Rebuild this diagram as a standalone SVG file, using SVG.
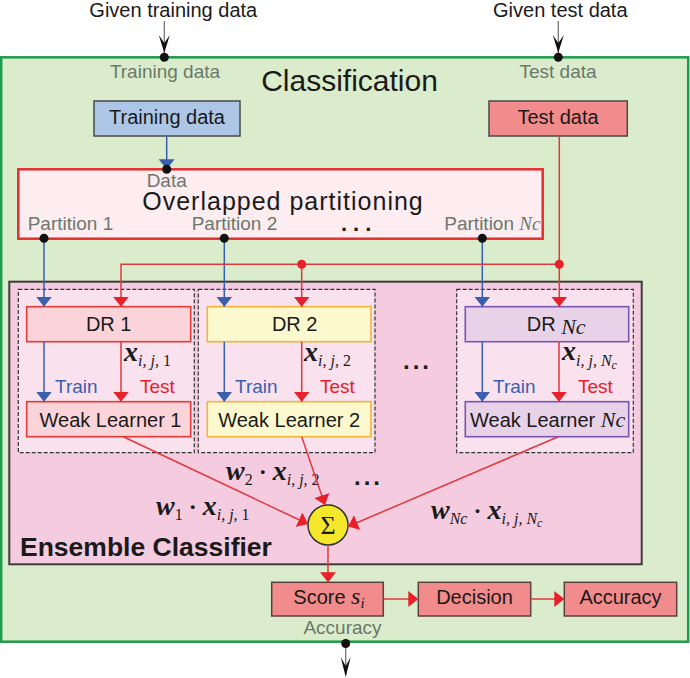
<svg xmlns="http://www.w3.org/2000/svg" width="690" height="678" viewBox="0 0 690 678">
<style>
.sans{font-family:"Liberation Sans",Arial,sans-serif;fill:#1a1a1a}
.gray{font-family:"Liberation Sans",Arial,sans-serif;fill:#6c786c;font-size:19px}
.lbl{font-family:"Liberation Sans",Arial,sans-serif;fill:#1a1a1a;font-size:20px;text-anchor:middle}
.m{font-family:"Liberation Serif","Times New Roman",serif;font-style:italic}
.mb{font-family:"Liberation Serif","Times New Roman",serif;font-style:italic;font-weight:bold;fill:#1a1a1a}
.ms{font-family:"Liberation Serif","Times New Roman",serif;font-style:italic;fill:#1a1a1a}
.blue{stroke:#3a5fae;stroke-width:1.5;fill:none}
.red{stroke:#e0393e;stroke-width:1.5;fill:none}
.dash{fill:#f9e1ed;stroke:#333;stroke-width:1.2;stroke-dasharray:4 2}
.box1{fill:#fbd4d9;stroke:#e53935;stroke-width:1.6}
.box2{fill:#fdf9cf;stroke:#f4b43c;stroke-width:1.6}
.boxN{fill:#e8d2e8;stroke:#7b55b5;stroke-width:1.6}
.sal{fill:#f28b8b;stroke:#5a4040;stroke-width:1.5}
</style>
<defs>
<marker id="ab" viewBox="0 0 10 16" refX="10" refY="8" markerWidth="10" markerHeight="16" markerUnits="userSpaceOnUse" orient="auto"><path d="M0,0 L10,8 L0,16 Z" fill="#3a5fae"/></marker>
<marker id="ar" viewBox="0 0 10 16" refX="10" refY="8" markerWidth="10" markerHeight="16" markerUnits="userSpaceOnUse" orient="auto"><path d="M0,0 L10,8 L0,16 Z" fill="#e8202a"/></marker>
</defs>

<!-- outer -->
<g id="classification">
<rect x="1.2" y="57.3" width="687" height="584.4" fill="#daeccb" stroke="#1e9c4c" stroke-width="2.5"/>
<text class="sans" x="349.5" y="91" font-size="30" text-anchor="middle">Classification</text>
<text class="gray" x="165" y="78" text-anchor="middle">Training data</text>
<text class="gray" x="558" y="78" text-anchor="middle">Test data</text>
<text class="gray" x="342.5" y="634" text-anchor="middle">Accuracy</text>
</g>

<g id="given-training">
<text class="sans" x="173.3" y="17" font-size="20" text-anchor="middle">Given training data</text>
</g>
<g id="given-test">
<text class="sans" x="560.3" y="17" font-size="20" text-anchor="middle">Given test data</text>
</g>

<g id="training-data">
<rect x="94" y="101" width="146" height="35" fill="#aec6e6" stroke="#4a4a4a" stroke-width="1.5"/>
<text class="lbl" x="167" y="124">Training data</text>
</g>
<g id="test-data">
<rect x="489" y="101" width="138.3" height="35" fill="#f28b8b" stroke="#4a4a4a" stroke-width="1.5"/>
<text class="lbl" x="558" y="124">Test data</text>
</g>

<g id="partitioning">
<rect x="18.3" y="169.3" width="524.4" height="69.4" fill="#fdedf1" stroke="#e0302f" stroke-width="2.5"/>
<text class="gray" x="166.7" y="187" text-anchor="middle" font-size="18">Data</text>
<text class="sans" x="283" y="210" font-size="25" letter-spacing="1" text-anchor="middle">Overlapped partitioning</text>
<text class="gray" x="27.7" y="230" font-size="16.5">Partition 1</text>
<text class="gray" x="191.7" y="230" font-size="16.5">Partition 2</text>
<text class="gray" x="444.3" y="230" font-size="16.5">Partition <tspan class="m" font-size="19">Nc</tspan></text>
<text class="sans" x="341" y="231" font-size="22" font-weight="bold" letter-spacing="6">...</text>
</g>

<g id="ensemble">
<rect x="9.3" y="281.7" width="632.4" height="282.6" fill="#f5cbe0" stroke="#3c3c3c" stroke-width="2"/>
<text class="sans" x="20" y="556" font-size="26.5" font-weight="bold">Ensemble Classifier</text>
<rect class="dash" x="18.3" y="289.3" width="176" height="163.4"/>
<rect class="dash" x="198.3" y="289.3" width="176.7" height="163.4"/>
<rect class="dash" x="456.7" y="289.3" width="176.6" height="163.4"/>
<text class="sans" x="403" y="369" font-size="24" font-weight="bold" letter-spacing="3">...</text>
<text class="sans" x="354" y="485" font-size="24" font-weight="bold" letter-spacing="3">...</text>
</g>

<g id="dr1"><rect class="box1" x="26.7" y="306.7" width="164" height="35"/><text class="lbl" x="108.7" y="331">DR 1</text></g>
<g id="wl1"><rect class="box1" x="26.7" y="401.7" width="164" height="35"/><text class="lbl" x="110.5" y="426.7">Weak Learner 1</text></g>
<g id="dr2"><rect class="box2" x="207.3" y="306.7" width="163.7" height="35"/><text class="lbl" x="294.7" y="331">DR 2</text></g>
<g id="wl2"><rect class="box2" x="207.3" y="401.7" width="163.7" height="35"/><text class="lbl" x="289.2" y="426.7">Weak Learner 2</text></g>
<g id="drN"><rect class="boxN" x="465.3" y="306.7" width="163.4" height="35"/><text class="sans" x="526.7" y="331" font-size="20">DR <tspan class="ms" font-size="22" dy="3">Nc</tspan></text></g>
<g id="wlN"><rect class="boxN" x="465.3" y="401.7" width="163.4" height="35"/><text class="sans" x="470" y="426.7" font-size="20">Weak Learner <tspan class="ms" font-size="22">Nc</tspan></text></g>

<g id="sum">
<circle cx="328" cy="525" r="20" fill="#f5e82a" stroke="#333" stroke-width="1.5"/>
<text x="328" y="534" font-family="'Liberation Serif','Times New Roman',serif" font-size="26" text-anchor="middle" fill="#1a1a1a">Σ</text>
</g>

<g id="score"><rect class="sal" x="271.7" y="582.3" width="111.6" height="33.7"/><text class="sans" x="293.3" y="604" font-size="20">Score <tspan class="ms" font-size="24">s</tspan><tspan class="ms" font-size="15" dy="4">i</tspan></text></g>
<g id="decision"><rect class="sal" x="418.3" y="582.3" width="112.4" height="33.7"/><text class="lbl" x="474.5" y="604">Decision</text></g>
<g id="accuracy"><rect class="sal" x="564.3" y="582.3" width="112.4" height="33.7"/><text class="lbl" x="620.5" y="604">Accuracy</text></g>

<g id="labels">
<text class="sans" font-size="19" style="fill:#3a5fae" x="55" y="393.3">Train</text>
<text class="sans" font-size="19" style="fill:#e8202a" x="140" y="393.3">Test</text>
<text class="sans" font-size="19" style="fill:#3a5fae" x="235" y="393.3">Train</text>
<text class="sans" font-size="19" style="fill:#e8202a" x="320" y="393.3">Test</text>
<text class="sans" font-size="19" style="fill:#3a5fae" x="493" y="393.3">Train</text>
<text class="sans" font-size="19" style="fill:#e8202a" x="578" y="393.3">Test</text>

<text x="124" y="361"><tspan class="mb" font-size="28">x</tspan><tspan class="ms" font-size="16" dy="5">i, j, </tspan><tspan font-family="'Liberation Serif',serif" font-size="16" fill="#1a1a1a">1</tspan></text>
<text x="304" y="361"><tspan class="mb" font-size="28">x</tspan><tspan class="ms" font-size="16" dy="5">i, j, </tspan><tspan font-family="'Liberation Serif',serif" font-size="16" fill="#1a1a1a">2</tspan></text>
<text x="562" y="360"><tspan class="mb" font-size="28">x</tspan><tspan class="ms" font-size="16" dy="6">i, j, N</tspan><tspan class="ms" font-size="12" dy="3">c</tspan></text>

<text x="226" y="480"><tspan class="mb" font-size="28">w</tspan><tspan font-family="'Liberation Serif',serif" font-size="16" fill="#1a1a1a" dy="5">2</tspan><tspan font-family="'Liberation Serif',serif" font-size="24" font-weight="bold" fill="#1a1a1a" dy="-5"> · </tspan><tspan class="mb" font-size="28">x</tspan><tspan class="ms" font-size="16" dy="5">i, j, </tspan><tspan font-family="'Liberation Serif',serif" font-size="16" fill="#1a1a1a">2</tspan></text>
<text x="156" y="515"><tspan class="mb" font-size="28">w</tspan><tspan font-family="'Liberation Serif',serif" font-size="16" fill="#1a1a1a" dy="5">1</tspan><tspan font-family="'Liberation Serif',serif" font-size="24" font-weight="bold" fill="#1a1a1a" dy="-5"> · </tspan><tspan class="mb" font-size="28">x</tspan><tspan class="ms" font-size="16" dy="5">i, j, </tspan><tspan font-family="'Liberation Serif',serif" font-size="16" fill="#1a1a1a">1</tspan></text>
<text x="431" y="519"><tspan class="mb" font-size="28">w</tspan><tspan class="ms" font-size="16" dy="5">Nc</tspan><tspan font-family="'Liberation Serif',serif" font-size="24" font-weight="bold" fill="#1a1a1a" dy="-5"> · </tspan><tspan class="mb" font-size="28">x</tspan><tspan class="ms" font-size="16" dy="5">i, j, N</tspan><tspan class="ms" font-size="12" dy="3">c</tspan></text>
</g>

<g id="connectors">
<!-- inputs -->
<path d="M164.3,21 V57" stroke="#777" stroke-width="1.3"/>
<path d="M164.3,53 L158.8,35 L164.3,43 L169.8,35 Z" fill="#111"/>
<circle cx="164.3" cy="57.3" r="4.5" fill="#111"/>
<path d="M558.3,21 V57" stroke="#777" stroke-width="1.3"/>
<path d="M558.3,53 L552.8,35 L558.3,43 L563.8,35 Z" fill="#111"/>
<circle cx="558.3" cy="57.3" r="4.5" fill="#111"/>
<!-- output -->
<path d="M345.7,643.5 V675" stroke="#777" stroke-width="1.3"/>
<path d="M345.7,677 L340.7,657 L345.7,666 L350.7,657 Z" fill="#111"/>
<circle cx="345.7" cy="643.5" r="4.5" fill="#111"/>

<!-- training to partition -->
<path class="blue" d="M166.7,136 V169.3" marker-end="url(#ab)"/>
<circle cx="166.7" cy="169.3" r="4.5" fill="#111"/>

<!-- partitions to DR -->
<path class="blue" d="M44,238.3 V306.7" marker-end="url(#ab)"/>
<path class="blue" d="M224.3,238.3 V306.7" marker-end="url(#ab)"/>
<path class="blue" d="M482.3,238.3 V306.7" marker-end="url(#ab)"/>
<circle cx="44" cy="238.3" r="4.5" fill="#111"/>
<circle cx="224.3" cy="238.3" r="4.5" fill="#111"/>
<circle cx="482.3" cy="238.3" r="4.5" fill="#111"/>

<!-- test data to DR -->
<path class="red" d="M559.3,136 V306.7" marker-end="url(#ar)"/>
<path class="red" d="M559.3,264.3 H121 V306.7" marker-end="url(#ar)"/>
<path class="red" d="M301.7,264.3 V306.7" marker-end="url(#ar)"/>
<circle cx="301.7" cy="264.3" r="4.5" fill="#e8202a"/>
<circle cx="559.3" cy="264.3" r="4.5" fill="#e8202a"/>

<!-- DR to WL -->
<path class="blue" d="M44,341.7 V401.7" marker-end="url(#ab)"/>
<path class="red" d="M121,341.7 V401.7" marker-end="url(#ar)"/>
<path class="blue" d="M224.3,341.7 V401.7" marker-end="url(#ab)"/>
<path class="red" d="M301.7,341.7 V401.7" marker-end="url(#ar)"/>
<path class="blue" d="M482.3,341.7 V401.7" marker-end="url(#ab)"/>
<path class="red" d="M559,341.7 V401.7" marker-end="url(#ar)"/>

<!-- WL to sum -->
<path class="red" d="M123.3,436.7 L308,524" marker-end="url(#ar)"/>
<path class="red" d="M301.7,436.7 L325,505" marker-end="url(#ar)"/>
<path class="red" d="M558.3,436.7 L348,526.5" marker-end="url(#ar)"/>

<!-- sum to score and chain -->
<path class="red" d="M328,545 V582.3" marker-end="url(#ar)"/>
<path class="red" d="M383.3,599 H418.3" marker-end="url(#ar)"/>
<path class="red" d="M530.7,599 H564.3" marker-end="url(#ar)"/>
</g>
</svg>
